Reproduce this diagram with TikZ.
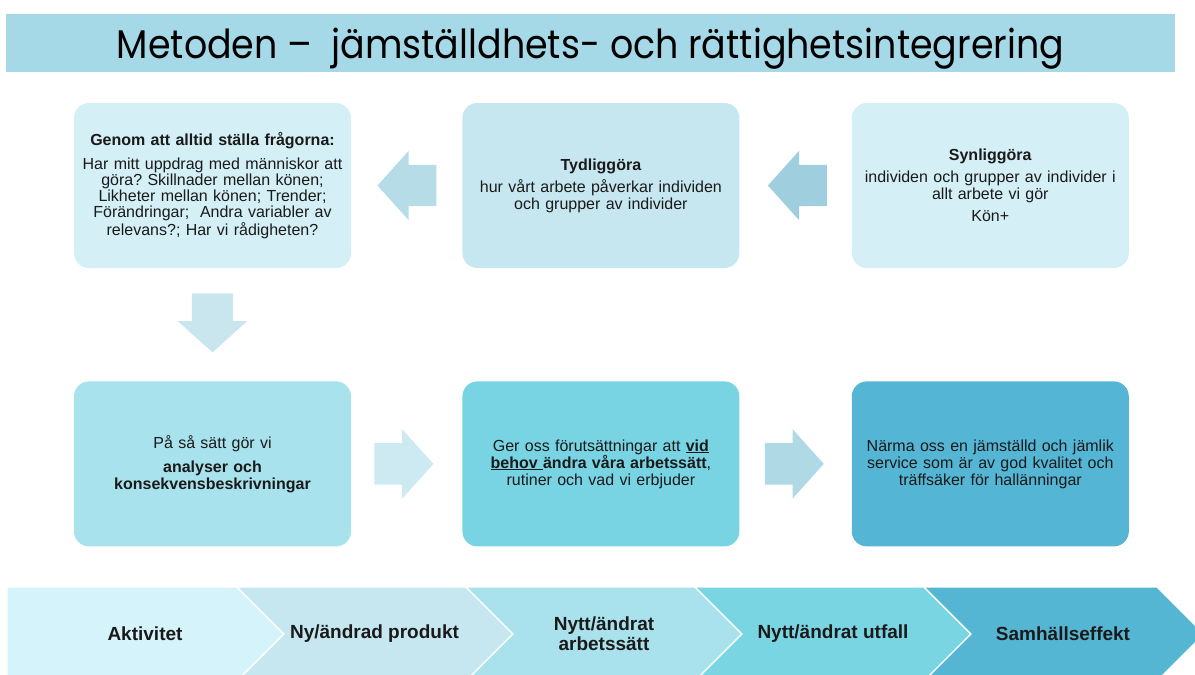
\documentclass[tikz,border=0pt]{standalone}
\usepackage{fontspec}
\setmainfont{Liberation Sans}
\newfontfamily\titlefont[FakeStretch=0.91]{Poppins}
\usetikzlibrary{positioning,shapes.arrows}
\frenchspacing

\definecolor{bandblue}{HTML}{A6D9E7}
\definecolor{boxpale}{HTML}{D4F0F6}
\definecolor{boxsoft}{HTML}{C7E7F0}
\definecolor{boxmid}{HTML}{A8E2EC}
\definecolor{boxdeep}{HTML}{78D4E3}
\definecolor{boxdark}{HTML}{55B5D4}
\definecolor{pilA}{HTML}{B6DCE8}
\definecolor{pilB}{HTML}{9FCFDE}
\definecolor{pilC}{HTML}{C9E6EF}
\definecolor{pilD}{HTML}{CDE9F1}
\definecolor{pilE}{HTML}{B0D9E6}
\definecolor{chevA}{HTML}{D4F3FA}
\definecolor{chevB}{HTML}{C6E7EF}
\definecolor{chevC}{HTML}{A9E2EC}
\definecolor{chevD}{HTML}{7AD5E3}
\definecolor{chevE}{HTML}{55B6D4}
\definecolor{ink}{HTML}{1A1A1A}

\tikzset{
x=1pt,
y=-1pt,
box/.style={rounded corners=15pt, minimum width=277pt, minimum height=165pt,
  text width=262pt, align=center, inner sep=0pt, text=ink,
  font=\fontsize{16}{17}\selectfont},
blockarrow/.style={single arrow, draw=none, inner xsep=0pt, inner ysep=20.5pt,
  minimum height=59pt, minimum width=69pt,
  single arrow head extend=14pt, single arrow tip angle=96},
chevron/.style={draw=white, line width=1.2pt},
chevtext/.style={font=\bfseries\fontsize{19}{20}\selectfont, align=center, text=ink},
}

\begin{document}
\begin{tikzpicture}
    \useasboundingbox (0,0) rectangle (1195,675);

    % title
    \node[fill=bandblue, minimum width=1169pt, minimum height=58pt, inner sep=0pt,
      text depth=0pt, font=\titlefont\fontsize{40}{44}\selectfont] (rubrik) at (590.5,43)
      {Metoden –\ \ jämställdhets- och rättighetsintegrering};

    % boxes
    \node[box, fill=boxpale] (genom) at (212.5,185.5)
      {\textbf{Genom att alltid ställa frågorna:}\par\vspace{8pt}
       {\fontsize{16}{16}\selectfont Har mitt uppdrag med människor att\\
        göra? Skillnader mellan könen;\\
        Likheter mellan könen; Trender;\\
        Förändringar;\ \ Andra variabler av\\
        relevans?; Har vi rådigheten?\par}};
    \node[box, fill=boxsoft, right=111pt of genom] (tydlig)
      {\textbf{Tydliggöra}\\[5pt]
       hur vårt arbete påverkar individen\\
       och grupper av individer};
    \node[box, fill=boxpale, right=112pt of tydlig] (synlig)
      {\textbf{Synliggöra}\\[5pt]
       individen och grupper av individer i\\
       allt arbete vi gör\\[5pt]
       Kön+};
    \node[box, fill=boxmid, below=113pt of genom] (analys)
      {På så sätt gör vi\\[7pt]
       \textbf{analyser och}\\
       \textbf{konsekvensbeskrivningar}};
    \node[box, fill=boxdeep, right=111pt of analys] (behov)
      {Ger oss förutsättningar att \textbf{\underline{vid}}\\
       \textbf{\underline{behov\ }ändra våra arbetssätt},\\
       rutiner och vad vi erbjuder};
    \node[box, fill=boxdark, right=112pt of behov] (narma)
      {Närma oss en jämställd och jämlik\\
       service som är av god kvalitet och\\
       träffsäker för hallänningar};

    % block arrows
    \node[blockarrow, fill=pilA, rotate=180, anchor=tip] (pil1) at ([xshift=26pt]genom.east) {};
    \node[blockarrow, fill=pilB, rotate=180, anchor=tip] (pil2) at ([xshift=28pt]tydlig.east) {};
    \node[blockarrow, fill=pilC, rotate=-90, anchor=tail] (pil3) at ([yshift=-25pt]genom.south) {};
    \node[blockarrow, fill=pilD, anchor=tail] (pil4) at ([xshift=23pt]analys.east) {};
    \node[blockarrow, fill=pilE, anchor=tail] (pil5) at ([xshift=25pt]behov.east) {};

    % chevrons
    \filldraw[chevron, fill=chevA] (7,587) -- (237,587) -- (284,634) -- (237,681) -- (7,681) -- cycle;
    \filldraw[chevron, fill=chevB] (237,587) -- (466,587) -- (513,634) -- (466,681) -- (237,681) -- (284,634) -- cycle;
    \filldraw[chevron, fill=chevC] (466,587) -- (695,587) -- (742,634) -- (695,681) -- (466,681) -- (513,634) -- cycle;
    \filldraw[chevron, fill=chevD] (695,587) -- (924,587) -- (971,634) -- (924,681) -- (695,681) -- (742,634) -- cycle;
    \filldraw[chevron, fill=chevE] (924,587) -- (1157,587) -- (1204,634) -- (1157,681) -- (924,681) -- (971,634) -- cycle;

    \node[chevtext] (aktivitet) at (145,634) {Aktivitet};
    \node[chevtext] (produkt) at (374.5,634) {Ny/ändrad produkt};
    \node[chevtext] (arbetssatt) at (604,634) {Nytt/ändrat\\arbetssätt};
    \node[chevtext] (utfall) at (833,634) {Nytt/ändrat utfall};
    \node[chevtext] (effekt) at (1063,634) {Samhällseffekt};

\end{tikzpicture}
\end{document}
